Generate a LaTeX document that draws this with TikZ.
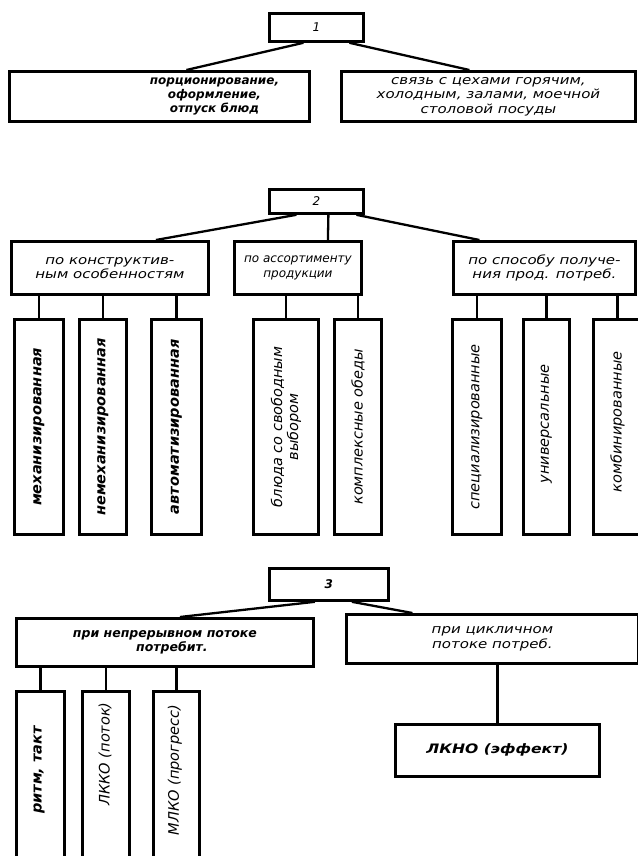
\documentclass[tikz,border=0pt]{standalone}
\usepackage{fontspec}
\setmainfont{DejaVu Sans}
\newfontfamily\widefam[FakeStretch=1.2]{DejaVu Sans}
\begin{document}
\begin{tikzpicture}[x=1pt,y=-1pt,
  box/.style={draw, line width=2.8pt, inner sep=0pt, anchor=north west, align=center,
              font=\widefam\itshape\fontsize{12.5}{14.5}\selectfont},
  plainbox/.style={box, font=\itshape\fontsize{12}{14.5}\selectfont},
  hbox/.style={box, font=\bfseries\itshape\fontsize{12.5}{14.5}\selectfont},
  htxt/.style={inner sep=0pt, align=center, font=\bfseries\itshape\fontsize{12}{14}\selectfont},
  vlabel/.style={rotate=90, inner sep=0pt, align=center, font=\itshape\fontsize{14.5}{16}\selectfont},
  hvlabel/.style={vlabel, font=\bfseries\itshape\fontsize{14.5}{16}\selectfont},
  link/.style={line width=2.3pt}]
\useasboundingbox (0,0) rectangle (637,856);
\fill[white] (0,0) rectangle (637,856);

% ---------- block 1 ----------
\node[plainbox, minimum width=94, minimum height=28] (n1) at (268,12) {1};
\node[box, minimum width=300, minimum height=50] (a) at (8,70) {};
\node[htxt] (at) at ([xshift=55pt]a.center) {порционирование,\\оформление,\\отпуск блюд};
\node[box, minimum width=294, minimum height=50] (b) at (340,70)
  {связь с цехами горячим,\\холодным, залами, моечной\\столовой посуды};
\draw[link] ([xshift=-13pt]n1.south) -- ([xshift=27pt]a.north);
\draw[link] ([xshift=33pt]n1.south) -- ([xshift=-19pt]b.north);

% ---------- block 2 ----------
\node[plainbox, minimum width=94, minimum height=24] (n2) at (268,188) {2};
\node[box, minimum width=197, minimum height=53] (c1) at (10,240)
  {по конструктив-\\ным особенностям};
\node[plainbox, minimum width=127, minimum height=53] (c2) at (233,240)
  {по ассортименту\\продукции};
\node[box, minimum width=182, minimum height=53] (c3) at (452,240)
  {по способу получе-\\ния прод. потреб.};
\draw[link] ([xshift=-20pt]n2.south) -- ([xshift=46pt]c1.north);
\draw[link] ([xshift=12pt]n2.south) -- ([xshift=30pt]c2.north);
\draw[link] ([xshift=40pt]n2.south) -- ([xshift=-65pt]c3.north);

\foreach \nm/\x/\w in {v1/13/49, v2/78/47, v3/150/50, v4/252/65, v5/333/47,
                       v6/451/49, v7/522/46, v8/592/48}
  \node[box, minimum width=\w, minimum height=215] (\nm) at (\x,318) {};

\node[hvlabel] (t1) at (v1.center) {механизированная};
\node[hvlabel] (t2) at (v2.center) {немеханизированная};
\node[hvlabel] (t3) at (v3.center) {автоматизированная};
\node[vlabel]  (t4) at (v4.center) {блюда со свободным\\выбором};
\node[vlabel]  (t5) at (v5.center) {комплексные обеды};
\node[vlabel]  (t6) at (v6.center) {специализированные};
\node[vlabel]  (t7) at ([yshift=3pt]v7.center) {универсальные};
\node[vlabel]  (t8) at ([yshift=5pt]v8.center) {комбинированные};

\foreach \p/\c in {v1/c1, v2/c1, v3/c1, v4/c2, v5/c2, v6/c3, v7/c3, v8/c3}
  \draw[link] (\c.south -| \p.north) -- (\p.north);

% ---------- block 3 ----------
\node[plainbox, minimum width=119, minimum height=32] (n3) at (268,567) {\bfseries 3};
\node[hbox, minimum width=297, minimum height=48] (d) at (15,617)
  {при непрерывном потоке\\\hspace*{14pt}потребит.};
\node[box, minimum width=292, minimum height=49] (e) at (345,613)
  {при цикличном\\потоке потреб.};
\draw[link] ([xshift=-14pt]n3.south) -- ([xshift=15pt]d.north);
\draw[link] ([xshift=23pt]n3.south) -- ([xshift=-80pt]e.north);

\node[box, minimum width=48, minimum height=200] (w1) at (15,690) {};
\node[box, minimum width=47, minimum height=200] (w2) at (81,690) {};
\node[box, minimum width=46, minimum height=200] (w3) at (152,690) {};
\node[hvlabel] (s1) at (39,770) {ритм, такт};
\node[vlabel]  (s2) at (105,754) {ЛККО (поток)};
\node[vlabel]  (s3) at (175,770) {МЛКО (прогресс)};
\foreach \p in {w1, w2, w3}
  \draw[link] (d.south -| \p.north) -- (\p.north);

\node[box, minimum width=204, minimum height=52,
      font=\widefam\bfseries\itshape\fontsize{13}{15}\selectfont] (f) at (394,723) {ЛКНО (эффект)};
\draw[link] (e.south -| f.north) -- (f.north);
\end{tikzpicture}
\end{document}
